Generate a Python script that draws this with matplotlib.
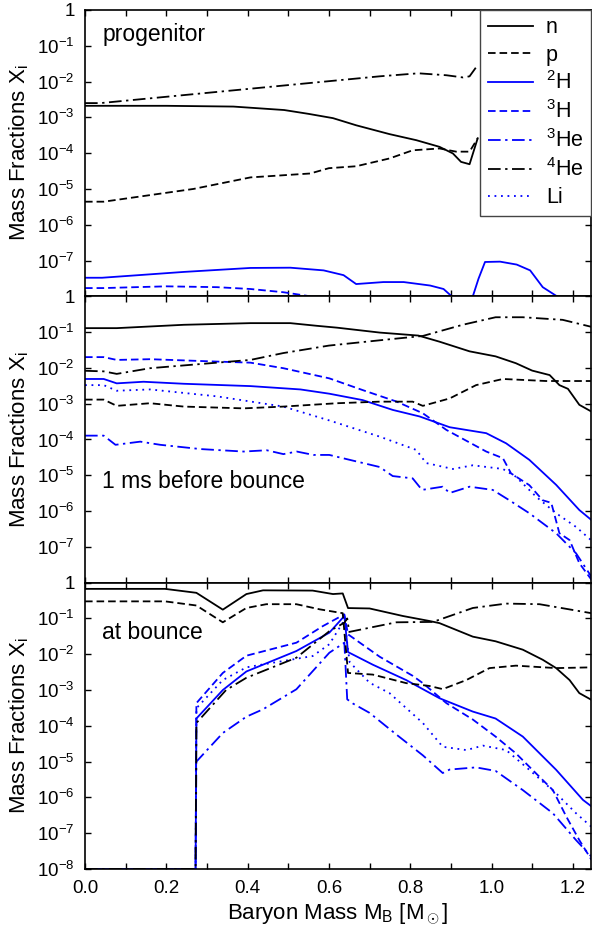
import numpy as np
import matplotlib
matplotlib.use("Agg")
import matplotlib.pyplot as plt
from matplotlib.ticker import FixedLocator, FixedFormatter, MultipleLocator, FormatStrFormatter
from matplotlib.lines import Line2D

plt.rcParams['font.family'] = ['Liberation Sans', 'DejaVu Sans']
plt.rcParams['mathtext.fontset'] = 'custom'
plt.rcParams['mathtext.rm'] = 'Liberation Sans'
plt.rcParams['mathtext.it'] = 'Liberation Sans:italic'
plt.rcParams['mathtext.bf'] = 'Liberation Sans:bold'

NAN = np.nan

# ---------------- progenitor ----------------
prog_n_x = [0.0, 0.04, 0.2, 0.365, 0.49, 0.55, 0.61, 0.667, 0.749, 0.815, 0.872, 0.905, 0.925, 0.946, 0.966]
prog_n_y = [2.1e-3, 2.1e-3, 2.1e-3, 2.0e-3, 1.6e-3, 1.25e-3, 9.5e-4, 6e-4, 3.4e-4, 2.3e-4, 1.5e-4, 9.8e-5, 5.7e-5, 4.9e-5, 2.6e-4]
prog_p_x = [0.0, 0.046, 0.267, 0.407, 0.554, 0.6, 0.667, 0.749, 0.806, 0.872, 0.913, 0.946, 0.966]
prog_p_y = [4.4e-6, 4.4e-6, 1.0e-5, 2.1e-5, 2.7e-5, 3.8e-5, 4.3e-5, 7.1e-5, 1.2e-4, 1.35e-4, 1.1e-4, 1.1e-4, 2.6e-4]
prog_he4_x = [0.0, 0.038, 0.61, 0.725, 0.82, 0.889, 0.93, 0.946, 0.962]
prog_he4_y = [2.5e-3, 2.5e-3, 1.05e-2, 1.4e-2, 1.7e-2, 1.5e-2, 1.3e-2, 1.4e-2, 2.5e-2]
prog_h2_x = [0.0, 0.042, 0.243, 0.407, 0.505, 0.587, 0.636, 0.667, 0.734, 0.784, 0.849, 0.882, 0.902, 0.92,
             0.954, 0.968, 0.984, 1.021, 1.062, 1.095, 1.126, 1.161]
prog_h2_y = [3.3e-8, 3.3e-8, 4.8e-8, 6.2e-8, 6.3e-8, 5.3e-8, 3.9e-8, 2.2e-8, 2.5e-8, 2.5e-8, 2.0e-8, 1.6e-8, 1.0e-8, NAN,
             1.0e-8, 3.1e-8, 9.1e-8, 9.3e-8, 7.7e-8, 5.3e-8, 1.8e-8, 1.0e-8]
prog_h3_x = [0.0, 0.046, 0.2, 0.325, 0.407, 0.488, 0.554]
prog_h3_y = [1.7e-8, 1.7e-8, 1.9e-8, 1.8e-8, 1.6e-8, 1.3e-8, 1.0e-8]

# ---------------- 1 ms before bounce ----------------
pre_n_x = [0.0, 0.078, 0.243, 0.407, 0.505, 0.57, 0.62, 0.725, 0.82, 0.872, 0.946, 1.01, 1.06, 1.10, 1.143, 1.167, 1.188, 1.216, 1.246]
pre_n_y = [0.129, 0.129, 0.16, 0.178, 0.178, 0.15, 0.133, 0.097, 0.08, 0.054, 0.029, 0.021, 0.0135, 8.4e-3, 6.3e-3, 3.3e-3, 2.6e-3, 9.3e-4, 6e-4]
pre_p_x = [0.0, 0.046, 0.078, 0.16, 0.243, 0.39, 0.488, 0.62, 0.725, 0.806, 0.831, 0.897, 0.962, 1.028, 1.134, 1.246]
pre_p_y = [1.3e-3, 1.3e-3, 8.7e-4, 1.03e-3, 8.3e-4, 7.4e-4, 8.3e-4, 1.03e-3, 1.14e-3, 1.14e-3, 8.7e-4, 1.4e-3, 3.3e-3, 4.9e-3, 4.3e-3, 4.3e-3]
pre_he4_x = [0.0, 0.046, 0.078, 0.16, 0.325, 0.407, 0.488, 0.6, 0.749, 0.831, 0.929, 1.01, 1.077, 1.175, 1.246]
pre_he4_y = [8.3e-3, 8.0e-3, 6.8e-3, 9.8e-3, 0.014, 0.0167, 0.026, 0.042, 0.063, 0.078, 0.16, 0.26, 0.26, 0.22, 0.14]
pre_h2_x = [0.0, 0.046, 0.078, 0.144, 0.243, 0.407, 0.53, 0.601, 0.683, 0.757, 0.823, 0.897, 0.987, 1.036, 1.093, 1.159, 1.216, 1.246]
pre_h2_y = [4.9e-3, 4.9e-3, 3.7e-3, 4.1e-3, 3.6e-3, 3.1e-3, 2.5e-3, 1.9e-3, 1.26e-3, 6.7e-4, 4.4e-4, 2.2e-4, 1.5e-4, 7.8e-5, 2.7e-5, 5.4e-6, 1.07e-6, 5.6e-7]
pre_h3_x = [0.0, 0.046, 0.078, 0.16, 0.325, 0.407, 0.488, 0.601, 0.683, 0.766, 0.831, 0.889, 0.987, 1.028, 1.048, 1.093,
            1.126, 1.147, 1.167, 1.192, 1.216, 1.246]
pre_h3_y = [0.020, 0.020, 0.0167, 0.0175, 0.015, 0.014, 0.0098, 5.1e-3, 2.4e-3, 1.15e-3, 5.4e-4, 1.85e-4, 4.6e-5, 3e-5, 1.13e-5, 5.3e-6,
            2e-6, 1.7e-6, 2.4e-7, 1.55e-7, 3.5e-8, 1.2e-8]
pre_he3_x = [0.0, 0.046, 0.075, 0.136, 0.185, 0.284, 0.39, 0.447, 0.488, 0.521, 0.562, 0.601, 0.651, 0.725, 0.757, 0.806,
             0.829, 0.88, 0.897, 0.946, 1.003, 1.044, 1.093, 1.159, 1.208, 1.246]
pre_he3_y = [1.28e-4, 1.28e-4, 7.1e-5, 8.7e-5, 7.1e-5, 5.4e-5, 4.6e-5, 5e-5, 3.9e-5, 4.6e-5, 3.7e-5, 3.7e-5, 2.7e-5, 1.7e-5, 9.5e-6, 8.2e-6,
             3.9e-6, 4.8e-6, 3.2e-6, 4.8e-6, 3.9e-6, 2e-6, 8.7e-7, 2.4e-7, 6.6e-8, 1.45e-8]
pre_li_x = [0.0, 0.046, 0.078, 0.16, 0.325, 0.488, 0.601, 0.725, 0.815, 0.839, 0.905, 0.954, 1.028, 1.06, 1.11, 1.159, 1.208, 1.246]
pre_li_y = [3.3e-3, 3.3e-3, 2.3e-3, 2.5e-3, 1.6e-3, 8.3e-4, 3.4e-4, 1.2e-4, 5.1e-5, 2.2e-5, 1.5e-5, 1.9e-5, 1.5e-5, 9.1e-6, 2.5e-6, 8.7e-7, 3.6e-7, 1.5e-7]

# ---------------- at bounce ----------------
bnc_n_x = [0.0, 0.197, 0.274, 0.339, 0.397, 0.438, 0.56, 0.61, 0.634, 0.647, 0.70, 0.782, 0.847, 0.872, 0.954, 1.01, 1.077, 1.126, 1.159, 1.192, 1.216, 1.246]
bnc_n_y = [0.67, 0.67, 0.52, 0.176, 0.48, 0.61, 0.6, 0.48, 0.5, 0.195, 0.19, 0.117, 0.085, 0.074, 0.031, 0.023, 0.0134, 7e-3, 4.1e-3, 1.9e-3, 8.2e-4, 5.3e-4]
bnc_p_x = [0.0, 0.197, 0.274, 0.339, 0.397, 0.446, 0.52, 0.577, 0.634, 0.647, 0.708, 0.79, 0.847, 0.88, 0.938, 0.995, 1.06, 1.159, 1.246]
bnc_p_y = [0.30, 0.30, 0.23, 0.078, 0.196, 0.25, 0.25, 0.18, 0.14, 3e-3, 2.7e-3, 1.56e-3, 1.3e-3, 1.06e-3, 1.9e-3, 4.1e-3, 4.8e-3, 4.1e-3, 4.3e-3]
bnc_he4_x = [0.0, 0.272, 0.274, 0.347, 0.397, 0.52, 0.601, 0.638, 0.645, 0.65, 0.70, 0.766, 0.856, 0.954, 1.036, 1.118, 1.246]
bnc_he4_y = [1e-8, 1e-8, 1.2e-4, 1.0e-3, 2.2e-3, 8e-3, 0.044, 0.076, 0.1, 0.042, 0.055, 0.078, 0.08, 0.196, 0.26, 0.25, 0.14]
bnc_h2_x = [0.0, 0.272, 0.274, 0.339, 0.397, 0.52, 0.601, 0.638, 0.647, 0.708, 0.79, 0.872, 0.954, 1.01, 1.077, 1.159, 1.225, 1.246]
bnc_h2_y = [1e-8, 1e-8, 1.6e-4, 1.0e-3, 3.3e-3, 0.0123, 0.04, 0.117, 0.0115, 5.1e-3, 1.9e-3, 5.9e-4, 2.5e-4, 1.6e-4, 5e-5, 5.9e-6, 8.5e-7, 5.6e-7]
bnc_h3_x = [0.0, 0.272, 0.274, 0.339, 0.397, 0.52, 0.585, 0.638, 0.647, 0.725, 0.806, 0.831, 0.889, 0.954, 1.01, 1.06, 1.093, 1.151, 1.184, 1.216, 1.246]
bnc_h3_y = [1e-8, 1e-8, 4.3e-4, 3e-3, 9.1e-3, 0.021, 0.061, 0.13, 0.036, 8.5e-3, 2.5e-3, 1.56e-3, 4.3e-4, 1.5e-4, 5e-5, 1.7e-5, 7.2e-6, 1.6e-6, 2.9e-7, 6.4e-8, 1.8e-8]
bnc_he3_x = [0.0, 0.272, 0.274, 0.339, 0.397, 0.438, 0.52, 0.601, 0.638, 0.645, 0.659, 0.70, 0.766, 0.831, 0.88, 0.897, 0.962, 1.01, 1.077, 1.151, 1.208, 1.246]
bnc_he3_y = [1e-8, 1e-8, 1e-5, 6.3e-5, 1.8e-4, 2.9e-4, 1.05e-3, 0.011, 0.021, 5.5e-4, 4.2e-4, 2.3e-4, 5.7e-5, 1.5e-5, 4.8e-6, 6e-6, 6.9e-6, 5.5e-6, 1.6e-6, 3.6e-7, 6.4e-8, 2.2e-8]
bnc_li_x = [0.0, 0.272, 0.274, 0.339, 0.397, 0.438, 0.56, 0.601, 0.638, 0.651, 0.70, 0.749, 0.831, 0.88, 0.938, 0.979, 1.036, 1.093, 1.159, 1.208, 1.246]
bnc_li_y = [1e-8, 1e-8, 3.1e-4, 1.9e-3, 4.3e-3, 5.2e-3, 8.9e-3, 0.019, 0.09, 6e-3, 1.6e-3, 8.2e-4, 1.2e-4, 2.6e-5, 2.1e-5, 2.8e-5, 2.1e-5, 5.9e-6, 1.3e-6, 3.6e-7, 1.5e-7]

species_labels = ['n', 'p', r'$^{2}$H', r'$^{3}$H', r'$^{3}$He', r'$^{4}$He', 'Li']
panel_titles = ['progenitor', '1 ms before bounce', 'at bounce']
ytick_vals = [1e0, 1e-1, 1e-2, 1e-3, 1e-4, 1e-5, 1e-6, 1e-7, 1e-8]
ytick_text = ['1'] + [r'$\mathregular{10^{-%d}}$' % k for k in range(1, 9)]

BLUE = '#0000ff'
BLACK = 'black'
LW = 1.3
DASH = (0, (4.2, 2.2))
DASHDOT = (0, (7, 2.5, 1.3, 2.5))
DOT = (0, (1.0, 2.6))
styles = {
    'n': dict(color=BLACK, ls='-'),
    'p': dict(color=BLACK, ls=DASH),
    'h2': dict(color=BLUE, ls='-'),
    'h3': dict(color=BLUE, ls=DASH),
    'he3': dict(color=BLUE, ls=DASHDOT),
    'he4': dict(color=BLACK, ls=DASHDOT),
    'li': dict(color=BLUE, ls=DOT),
}

panels = [
    {'n': (prog_n_x, prog_n_y), 'p': (prog_p_x, prog_p_y), 'he4': (prog_he4_x, prog_he4_y),
     'h2': (prog_h2_x, prog_h2_y), 'h3': (prog_h3_x, prog_h3_y)},
    {'n': (pre_n_x, pre_n_y), 'p': (pre_p_x, pre_p_y), 'he4': (pre_he4_x, pre_he4_y),
     'h2': (pre_h2_x, pre_h2_y), 'h3': (pre_h3_x, pre_h3_y), 'he3': (pre_he3_x, pre_he3_y),
     'li': (pre_li_x, pre_li_y)},
    {'n': (bnc_n_x, bnc_n_y), 'p': (bnc_p_x, bnc_p_y), 'he4': (bnc_he4_x, bnc_he4_y),
     'h2': (bnc_h2_x, bnc_h2_y), 'h3': (bnc_h3_x, bnc_h3_y), 'he3': (bnc_he3_x, bnc_he3_y),
     'li': (bnc_li_x, bnc_li_y)},
]
title_y = [0.2, 6.9e-6, 0.04]

fig = plt.figure(figsize=(5.92, 9.31), dpi=100)
fig.subplots_adjust(left=0.1436, right=0.9985, top=0.9893, bottom=0.0666, hspace=0)
axes = fig.subplots(3, 1, sharex=True)

for i, ax in enumerate(axes):
    data = panels[i]
    for key in ['li', 'he3', 'h3', 'h2', 'he4', 'p', 'n']:
        if key in data:
            x, y = data[key]
            ax.plot(x, y, lw=LW, **styles[key])
    ax.set_yscale('log')
    ax.set_ylim(1e-8, 1.0)
    ax.set_xlim(0, 1.245)
    ax.yaxis.set_major_locator(FixedLocator(ytick_vals))
    labels = list(ytick_text)
    if i < 2:
        labels[-1] = ''
    ax.yaxis.set_major_formatter(FixedFormatter(labels))
    ax.yaxis.set_minor_locator(FixedLocator([]))
    ax.xaxis.set_major_locator(MultipleLocator(0.2))
    ax.xaxis.set_minor_locator(MultipleLocator(0.1))
    ax.tick_params(which='both', direction='in', top=True, right=True, length=4.5, width=1.0)
    ax.tick_params(axis='y', labelsize=13.5, pad=7.5)
    ax.tick_params(axis='x', labelsize=13.5, pad=8)
    for s in ax.spines.values():
        s.set_linewidth(1.2)
    ax.set_ylabel(r'Mass Fractions X$_\mathregular{i}$', fontsize=16)
    ax.yaxis.set_label_coords(-0.106, 0.5)
    ax.text(0.043, title_y[i], panel_titles[i], fontsize=16.5, ha='left', va='center')

axes[2].xaxis.set_major_formatter(FormatStrFormatter('%.1f'))
axes[2].set_xlabel(r'Baryon Mass M$_\mathregular{B}$ [M$_\odot$]', fontsize=16, labelpad=3)

handles = [Line2D([], [], lw=LW, **styles[k]) for k in ['n', 'p', 'h2', 'h3', 'he3', 'he4', 'li']]
leg = axes[0].legend(handles, species_labels, loc='upper right', bbox_to_anchor=(1.0, 1.0),
                     borderaxespad=0, fontsize=15.5, handlelength=2.1, handletextpad=0.6,
                     labelspacing=0.28, fancybox=False, framealpha=1, edgecolor='#444444',
                     borderpad=0.35)
leg.get_frame().set_linewidth(1.0)

fig.savefig('out.png', dpi=100)
